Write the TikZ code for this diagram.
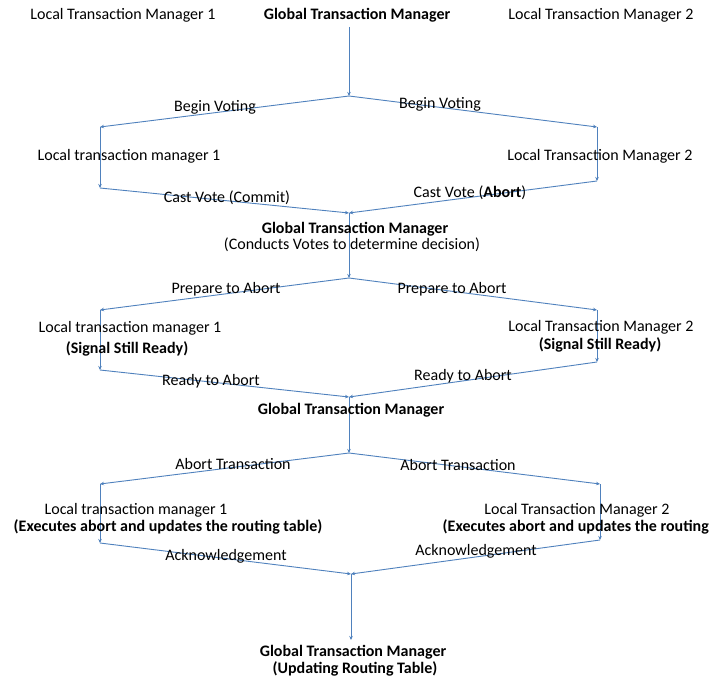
\documentclass[tikz,border=0pt]{standalone}
\usepackage{fontspec}
\setmainfont{Carlito}
\usetikzlibrary{arrows.meta}
\definecolor{lineblue}{RGB}{79,129,189}
\begin{document}
\begin{tikzpicture}[x=1pt,y=-1pt,
  flow/.style={draw=lineblue,line width=0.9pt,-{Stealth[length=4pt,width=3.5pt]}},
  lbl/.style={inner sep=0pt,font=\fontsize{16}{18}\selectfont},
  blbl/.style={inner sep=0pt,font=\fontsize{16}{18}\selectfont\bfseries}]
\useasboundingbox (0,0) rectangle (709,679);
\fill[white] (0,0) rectangle (709,679);
% top row
\node[lbl]  (ltm1top) at (123,15) {Local Transaction Manager 1};
\node[blbl] (gtm0)    at (357,15) {Global Transaction Manager};
\node[lbl]  (ltm2top) at (601,15) {Local Transaction Manager 2};
% junction coordinates
\coordinate (g0) at (349,27);
\coordinate (j1) at (349,96);
\coordinate (a1) at (100,127);
\coordinate (b1) at (597,127);
\coordinate (a2) at (100,188);
\coordinate (b2) at (597,181);
\coordinate (j2) at (349,213);
\coordinate (j3) at (349,278);
\coordinate (a3) at (100,310);
\coordinate (b3) at (597,310);
\coordinate (a4) at (100,370);
\coordinate (b4) at (597,362);
\coordinate (j4) at (349,397);
\coordinate (j5) at (349,453);
\coordinate (a5) at (100,484);
\coordinate (b5) at (600,484);
\coordinate (a6) at (100,543);
\coordinate (b6) at (600,540);
\coordinate (j6) at (351,574);
\coordinate (j7) at (351,640);
% connectors
\draw[flow] (g0) -- (j1);
\draw[flow] (j1) -- (a1);
\draw[flow] (j1) -- (b1);
\draw[flow] (a1) -- (a2);
\draw[flow] (b1) -- (b2);
\draw[flow] (a2) -- (j2);
\draw[flow] (b2) -- (j2);
\draw[flow] (j2) -- (j3);
\draw[flow] (j3) -- (a3);
\draw[flow] (j3) -- (b3);
\draw[flow] (a3) -- (a4);
\draw[flow] (b3) -- (b4);
\draw[flow] (a4) -- (j4);
\draw[flow] (b4) -- (j4);
\draw[flow] (j4) -- (j5);
\draw[flow] (j5) -- (a5);
\draw[flow] (j5) -- (b5);
\draw[flow] (a5) -- (a6);
\draw[flow] (b5) -- (b6);
\draw[flow] (a6) -- (j6);
\draw[flow] (b6) -- (j6);
\draw[flow] (j6) -- (j7);
% labels
\node[lbl] (bv1) at (215,107) {Begin Voting};
\node[lbl] (bv2) at (440,104) {Begin Voting};
\node[lbl] (ltm1a) at (129,156) {Local transaction manager 1};
\node[lbl] (ltm2a) at (600,156) {Local Transaction Manager 2};
\node[lbl] (cv1) at (227,198) {Cast Vote (Commit)};
\node[lbl] (cv2) at (470,193) {Cast Vote (\textbf{Abort})};
\node[blbl] (gtm1) at (355,229) {Global Transaction Manager};
\node[lbl] (gtm1b) at (352,245) {(Conducts Votes to determine decision)};
\node[lbl] (pa1) at (226,289) {Prepare to Abort};
\node[lbl] (pa2) at (452,289) {Prepare to Abort};
\node[lbl] (ltm1b) at (130,328) {Local transaction manager 1};
\node[blbl] (ssr1) at (127,349) {(Signal Still Ready)};
\node[lbl] (ltm2b) at (601,327) {Local Transaction Manager 2};
\node[blbl] (ssr2) at (600,345) {(Signal Still Ready)};
\node[lbl] (ra1) at (211,381) {Ready to Abort};
\node[lbl] (ra2) at (463,376) {Ready to Abort};
\node[blbl] (gtm2) at (351,410) {Global Transaction Manager};
\node[lbl] (at1) at (233,464) {Abort Transaction};
\node[lbl] (at2) at (458,465) {Abort Transaction};
\node[lbl] (ltm1c) at (136,510) {Local transaction manager 1};
\node[blbl] (ex1) at (168,527) {(Executes abort and updates the routing table)};
\node[lbl] (ltm2c) at (577,510) {Local Transaction Manager 2};
\node[blbl,anchor=east] (ex2) at (709,527) {(Executes abort and updates the routing};
\node[lbl] (ack1) at (226,556) {Acknowledgement};
\node[lbl] (ack2) at (476,551) {Acknowledgement};
\node[blbl] (gtm3) at (353,652) {Global Transaction Manager};
\node[blbl] (gtm3b) at (355,669) {(Updating Routing Table)};
\end{tikzpicture}
\end{document}
